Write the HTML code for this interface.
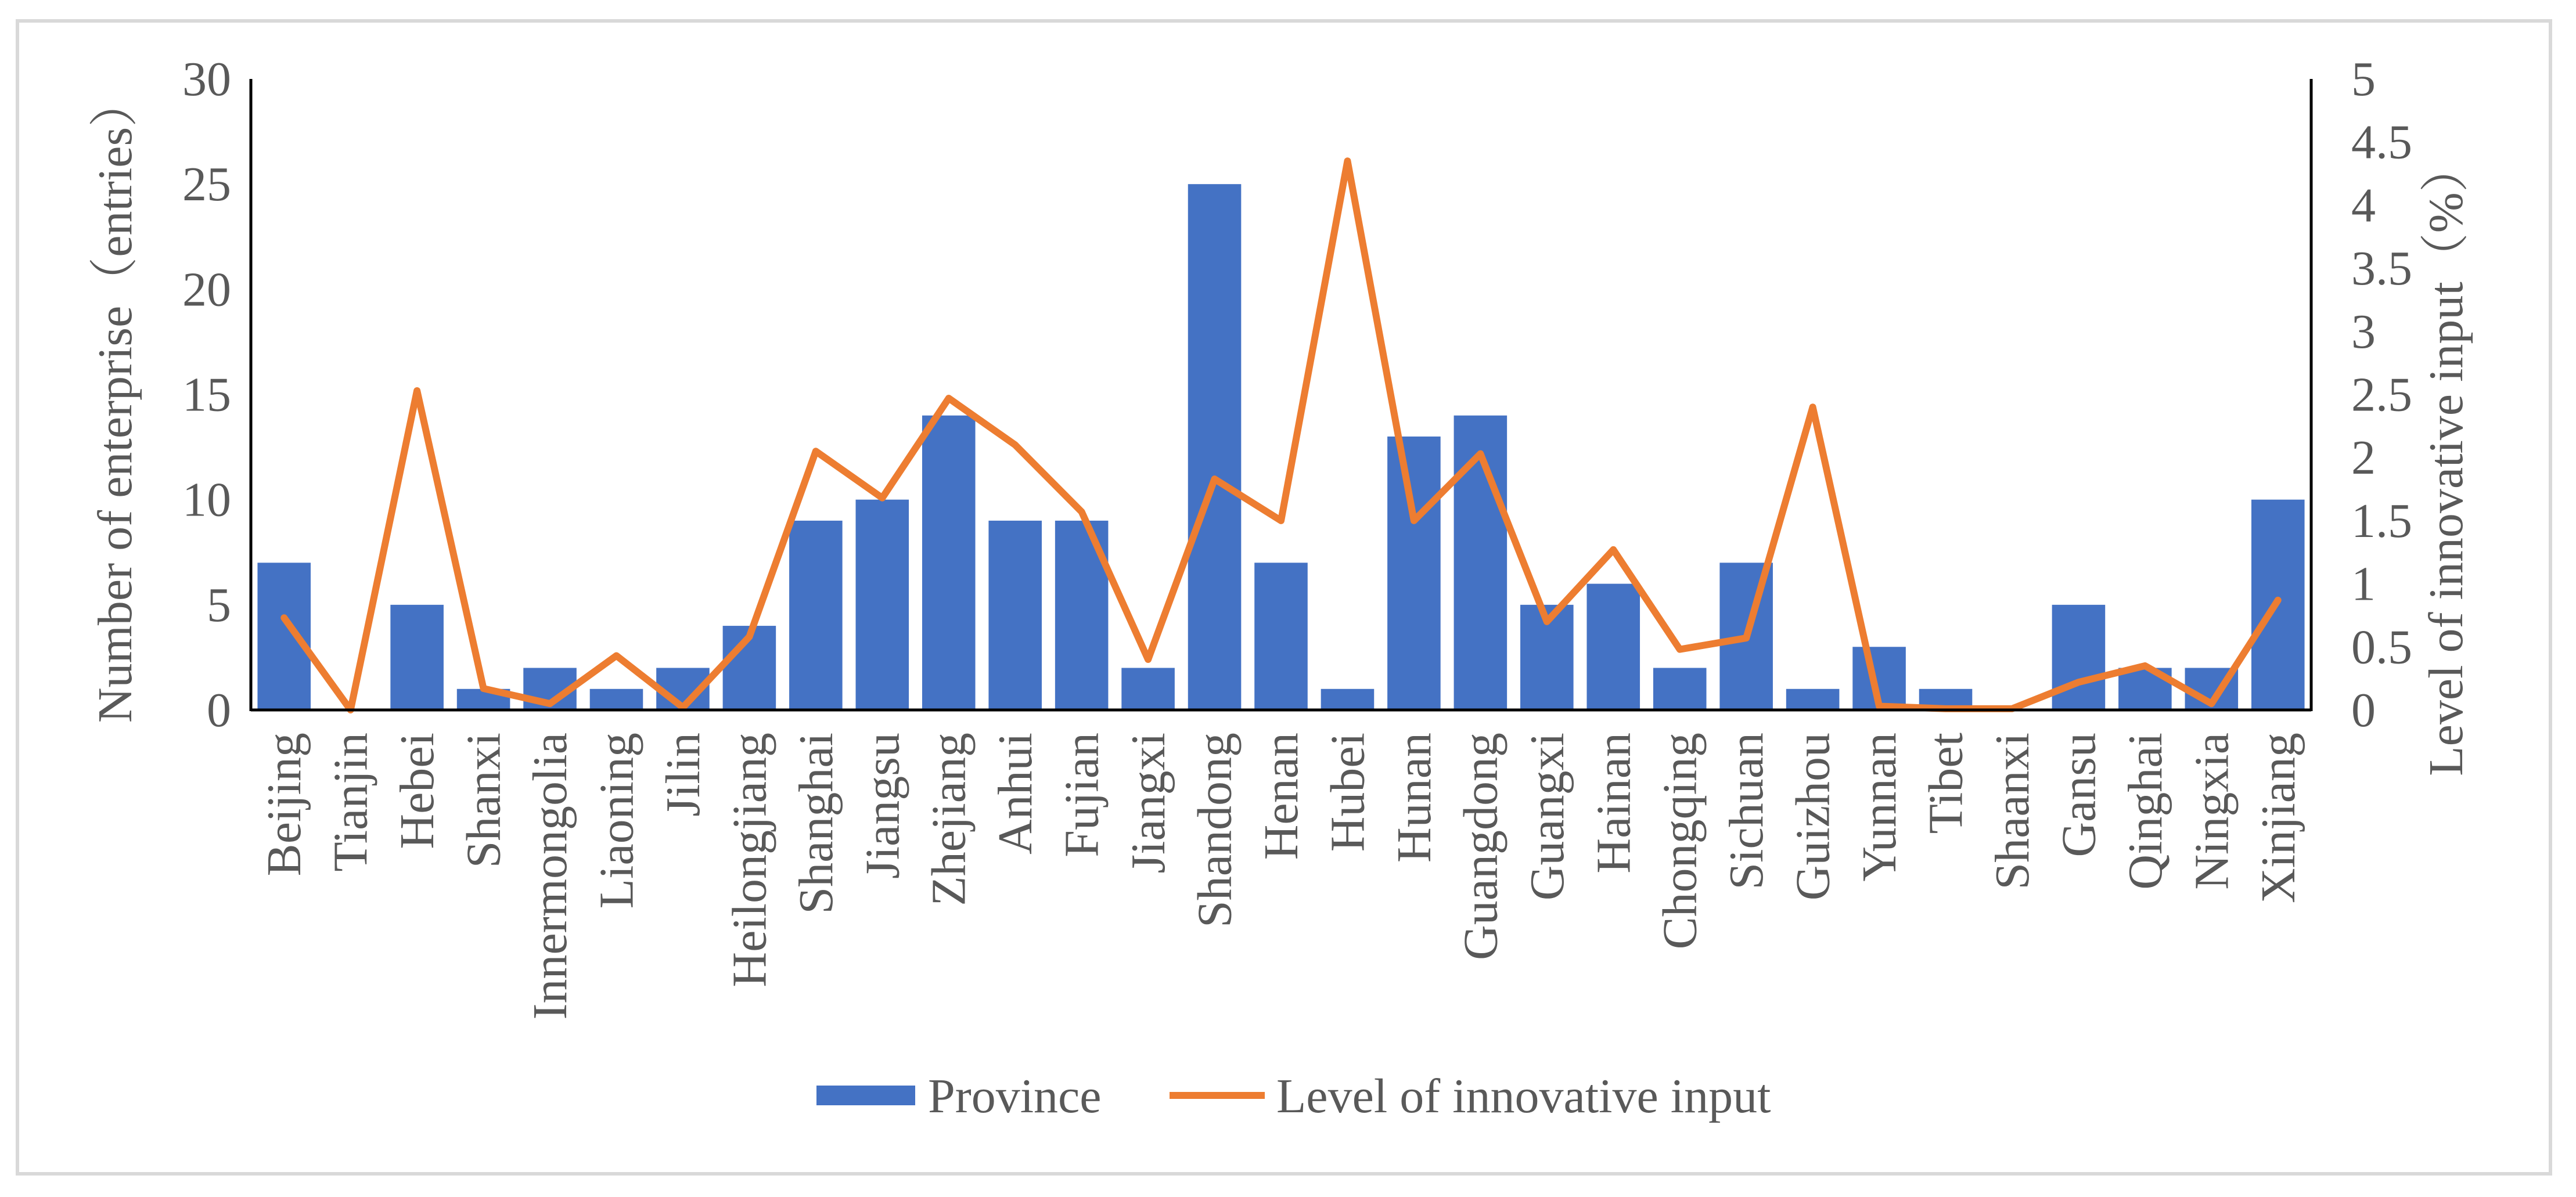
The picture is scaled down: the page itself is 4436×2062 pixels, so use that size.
<!DOCTYPE html>
<html><head><meta charset="utf-8">
<style>
html,body{margin:0;padding:0;background:#fff;}
svg text{font-family:"Liberation Serif","Times New Roman",serif;fill:#595959;}
svg text.cjk{font-family:"Liberation Serif","Noto Serif CJK SC",serif;}
</style></head>
<body>
<svg id="chart" width="4436" height="2057" viewBox="0 0 4436 2057" xmlns="http://www.w3.org/2000/svg">
<rect x="30" y="36" width="4362" height="1986" fill="#fff" stroke="#d9d9d9" stroke-width="6"/>
<g id="plot"></g>
<text class="cjk" transform="translate(226,690) rotate(-90)" text-anchor="middle" font-size="84">Number of enterprise（entries）</text>
<text class="cjk" transform="translate(4240,792) rotate(-90)" text-anchor="middle" font-size="84">Level of innovative input（%）</text>
<rect x="1406" y="1870" width="170" height="34" fill="#4472C4"/>
<text x="1598" y="1916" font-size="84">Province</text>
<line x1="2014" y1="1887" x2="2178" y2="1887" stroke="#ED7D31" stroke-width="12"/>
<text x="2198" y="1916" font-size="84">Level of innovative input</text>
</svg>
<script>
const categories=["Beijing","Tianjin","Hebei","Shanxi","Innermongolia","Liaoning","Jilin","Heilongjiang","Shanghai","Jiangsu","Zhejiang","Anhui","Fujian","Jiangxi","Shandong","Henan","Hubei","Hunan","Guangdong","Guangxi","Hainan","Chongqing","Sichuan","Guizhou","Yunnan","Tibet","Shaanxi","Gansu","Qinghai","Ningxia","Xinjiang"];
const enterprises=[7,0,5,1,2,1,2,4,9,10,14,9,9,2,25,7,1,13,14,5,6,2,7,1,3,1,0,5,2,2,10];
const innovation=[0.73,0,2.53,0.17,0.05,0.43,0.02,0.58,2.05,1.68,2.47,2.1,1.57,0.4,1.83,1.5,4.35,1.5,2.03,0.7,1.27,0.48,0.57,2.4,0.03,0.01,0.01,0.22,0.35,0.05,0.87];
const leftTicks=[0,5,10,15,20,25,30];
const rightTicks=["0","0.5","1","1.5","2","2.5","3","3.5","4","4.5","5"];
const NS="http://www.w3.org/2000/svg";
const g=document.getElementById('plot');
const X0=432,X1=3980,Y0=1223,YT=136;
const band=(X1-X0)/categories.length;
const xc=i=>X0+band*(i+0.5);
const yL=v=>Y0-(v/30)*(Y0-YT);
const yR=v=>Y0-(v/5)*(Y0-YT);
function mk(t,a){const e=document.createElementNS(NS,t);for(const k in a)e.setAttribute(k,a[k]);g.appendChild(e);return e;}
enterprises.forEach((v,i)=>{
 const w=band*0.8;
 const r=mk('rect',{x:xc(i)-w/2,y:yL(v),width:w,height:Y0-yL(v),fill:'#4472C4'});
 
 
});
const pts=innovation.map((v,i)=>xc(i)+','+yR(v)).join(' ');
const pl=mk('polyline',{points:pts,fill:'none',stroke:'#ED7D31','stroke-width':12,'stroke-linejoin':'round','stroke-linecap':'round'});


const la=mk('line',{x1:X0,y1:YT,x2:X0,y2:Y0+2,stroke:'#000','stroke-width':5});


const ra=mk('line',{x1:X1,y1:YT,x2:X1,y2:Y0+2,stroke:'#000','stroke-width':5});


const xa=mk('line',{x1:X0,y1:Y0,x2:X1,y2:Y0,stroke:'#000','stroke-width':5});


leftTicks.forEach(v=>{
 const t=mk('text',{x:398,y:yL(v)+28,'text-anchor':'end','font-size':84});
 t.textContent=v;
 
 
});
rightTicks.forEach(s=>{
 const t=mk('text',{x:4049,y:yR(parseFloat(s))+28,'text-anchor':'start','font-size':84});
 t.textContent=s;
 
 
});
categories.forEach((c,i)=>{
 const t=mk('text',{transform:'translate('+(xc(i)+28)+',1262) rotate(-90)','text-anchor':'end','font-size':84});
 t.textContent=c;
 
 
});
</script>
</body></html>
